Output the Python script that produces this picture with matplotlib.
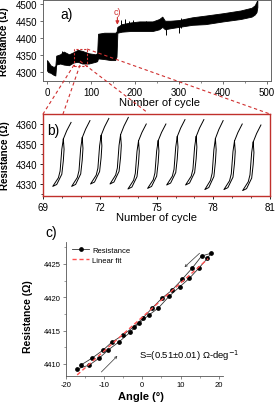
import numpy as np
import matplotlib
matplotlib.use("Agg")
import matplotlib.pyplot as plt
from matplotlib.lines import Line2D
from matplotlib.patches import Rectangle

plt.rcParams['font.family'] = ['Liberation Sans', 'DejaVu Sans']
plt.rcParams['axes.unicode_minus'] = False

# panel a: envelope of the resistance band (cycle, lower, upper)
a_cycle = [0, 3, 8, 15, 19, 21, 30, 38, 50, 60, 70, 80, 95, 110, 114, 116, 130, 145,
           155, 158, 160, 170, 190, 210, 240, 255, 262, 268, 280, 300, 330, 360, 400,
           440, 465, 472, 476, 478]
a_low = [4305, 4300, 4298, 4292, 4290, 4322, 4325, 4322, 4320, 4328, 4330, 4325, 4325,
         4330, 4332, 4340, 4338, 4335, 4335, 4345, 4415, 4418, 4420, 4420, 4420, 4425,
         4432, 4425, 4428, 4432, 4438, 4440, 4448, 4455, 4462, 4468, 4475, 4490]
a_high = [4335, 4330, 4320, 4315, 4318, 4348, 4352, 4360, 4352, 4358, 4365, 4362, 4355,
          4352, 4355, 4412, 4415, 4415, 4415, 4418, 4432, 4440, 4445, 4448, 4448, 4455,
          4462, 4450, 4450, 4452, 4460, 4465, 4472, 4480, 4488, 4495, 4505, 4512]
# isolated spikes (cycle, lower, upper)
spike_cycle = [35, 168, 178, 186, 196, 225, 270, 300, 305]
spike_low = [4340, 4430, 4430, 4430, 4430, 4430, 4408, 4415, 4430]
spike_high = [4362, 4452, 4455, 4450, 4452, 4450, 4440, 4445, 4458]

# panel b: loops per cycle
b_start = [69.50, 70.50, 71.50, 72.53, 73.48, 74.52, 75.53, 76.53, 77.55, 78.56, 79.55]
b_low = [4328.8, 4328.8, 4330.0, 4330.0, 4327.5, 4327.8, 4329.5, 4329.5, 4327.2, 4327.2, 4326.7]
b_high = [4360.8, 4361.7, 4362.8, 4363.3, 4360.0, 4360.0, 4362.2, 4362.2, 4361.7, 4360.0, 4359.5]
loop_dx = [0.56, 0.48, 0.39, 0.30, 0.0, 0.21, 0.48, 0.56, 0.60, 0.56, 0.74, 0.97]
loop_frac = [0.74, 0.58, 0.24, 0.135, 0.0, 0.03, 0.19, 0.40, 0.58, 0.74, 0.87, 1.0]

# panel c: resistance vs angle
angle = [-17.0, -13.8, -11.2, -8.9, -6.0, -3.2, -0.8, 1.75, 4.2, 7.0, 9.8, 12.3, 14.8,
         17.0, 17.9, 15.5, 13.05, 10.5, 7.8, 5.1, 2.6, 0.1, -2.2, -5.0, -8.0, -10.2,
         -13.05, -16.0]
res = [4409.25, 4409.85, 4410.9, 4412.1, 4413.35, 4414.75, 4416.15, 4417.35, 4418.4,
       4420.15, 4421.6, 4422.85, 4424.4, 4425.85, 4426.6, 4426.2, 4424.4, 4422.75,
       4421.1, 4419.85, 4418.4, 4416.85, 4415.6, 4414.35, 4413.25, 4412.1, 4410.9,
       4409.85]

W, H = 275, 406
fig = plt.figure(figsize=(W / 100, H / 100), dpi=100)


def ax_px(left, top, right, bottom):
    return fig.add_axes([left / W, 1 - bottom / H, (right - left) / W, (bottom - top) / H])


red = '#d03030'
dred = '#c0302c'

# ---- panel a
ax1 = ax_px(43, 0.5, 271, 82)
ax1.fill_between(a_cycle, a_low, a_high, color='black', lw=0.6, edgecolor='black')
ax1.vlines(spike_cycle, spike_low, spike_high, color='black', lw=0.7)
ax1.set_xlim(-9, 509)
ax1.set_ylim(4274, 4512)
ax1.set_xticks([0, 100, 200, 300, 400, 500])
ax1.set_xticks(np.arange(50, 500, 100), minor=True)
ax1.set_yticks([4300, 4350, 4400, 4450, 4500])
ax1.tick_params(labelsize=7, length=2.5, width=0.6, pad=1.5, color='#555555')
ax1.tick_params(which='minor', length=1.5, width=0.5, color='#555555')
for s in ax1.spines.values():
    s.set_color('#666666')
    s.set_linewidth(0.7)
ax1.set_ylabel('Resistance (Ω)', fontsize=7, fontweight='bold')
ax1.yaxis.set_label_coords(-0.147, 0.5)
ax1.set_xlabel('Number of cycle', fontsize=8)
ax1.xaxis.set_label_coords(0.513, -0.2)
ax1.text(0.075, 0.82, 'a)', transform=ax1.transAxes, fontsize=10, va='center')
ax1.text(160, 4478, 'c)', color=red, fontsize=6.5, ha='center', va='center')
ax1.annotate('', xy=(160, 4430), xytext=(160, 4468),
             arrowprops=dict(arrowstyle='-|>', color=red, lw=0.8, mutation_scale=5))
ax1.add_patch(Rectangle((61, 4318), 30, 50, fill=False, ec=red, lw=0.8, ls=(0, (2, 1.5))))

# ---- panel b
ax2 = ax_px(43.3, 115, 270, 197)
for x0, lo, hi in zip(b_start, b_low, b_high):
    xs = [x0 + d for d in loop_dx]
    ys = [lo + f * (hi - lo) for f in loop_frac]
    ax2.plot(xs, ys, color='black', lw=0.7)
ax2.set_xlim(69, 81)
ax2.set_ylim(4324, 4365)
ax2.set_xticks([69, 72, 75, 78, 81])
ax2.set_xticks(np.arange(69, 82, 1), minor=True)
ax2.set_yticks([4330, 4340, 4350, 4360])
ax2.set_yticks(np.arange(4325, 4365, 5), minor=True)
ax2.tick_params(labelsize=7, length=2.5, width=0.6, pad=1.5)
ax2.tick_params(which='minor', length=1.5, width=0.5)
for s in ax2.spines.values():
    s.set_color(dred)
    s.set_linewidth(1.0)
ax2.set_ylabel('Resistance (Ω)', fontsize=7, fontweight='bold')
ax2.yaxis.set_label_coords(-0.148, 0.5)
ax2.set_xlabel('Number of cycle', fontsize=8)
ax2.xaxis.set_label_coords(0.5, -0.2)
ax2.text(0.018, 0.8, 'b)', transform=ax2.transAxes, fontsize=10, va='center')

# ---- panel c
ax3 = ax_px(65.7, 243, 222.7, 377.3)
ax3.plot(angle, res, color='#333333', lw=0.6, marker='o', ms=2.4, mfc='black', mec='black',
         label='Resistance')
k, b0 = np.polyfit(angle, res, 1)
fx = np.array([-17.0, 17.2])
ax3.plot(fx, k * fx + b0, color='#ff5050', lw=1.0, ls=(0, (3, 2)), label='Linear fit')
ax3.annotate('', xy=(10.5, 4424.25), xytext=(15.5, 4426.9),
             arrowprops=dict(arrowstyle='->', color='#333333', lw=0.5, mutation_scale=4))
ax3.annotate('', xy=(-6.0, 4411.5), xytext=(-11.2, 4408.5),
             arrowprops=dict(arrowstyle='->', color='#333333', lw=0.5, mutation_scale=4))
ax3.set_xlim(-20, 21)
ax3.set_ylim(4408.15, 4428.3)
ax3.set_xticks([-20, -10, 0, 10, 20])
ax3.set_xticks([-15, -5, 5, 15], minor=True)
ax3.set_yticks([4410, 4415, 4420, 4425])
ax3.set_yticks([4412.5, 4417.5, 4422.5, 4427.5], minor=True)
ax3.tick_params(labelsize=5.5, length=2, width=0.5, pad=1.5, color='#555555')
ax3.tick_params(which='minor', length=1.2, width=0.4, color='#555555')
ax3.spines['top'].set_visible(False)
ax3.spines['right'].set_visible(False)
for s in ('left', 'bottom'):
    ax3.spines[s].set_color('#555555')
    ax3.spines[s].set_linewidth(0.6)
ax3.legend(loc='upper left', bbox_to_anchor=(0.01, 1.0), frameon=False, fontsize=5.5,
           handlelength=2.3, handletextpad=0.4, labelspacing=0.35, borderaxespad=0.2)
ax3.text(0.47, 0.16, 'S=(0.51±0.01) Ω-deg$^{-1}$', transform=ax3.transAxes, fontsize=6.8,
         va='center')
ax3.set_ylabel('Resistance (Ω)', fontsize=7.5, fontweight='bold')
ax3.yaxis.set_label_coords(-0.208, 0.45)
ax3.set_xlabel('Angle (°)', fontsize=8, fontweight='bold')
ax3.xaxis.set_label_coords(0.48, -0.11)
fig.text(51 / W, 1 - 233 / H, 'c)', fontsize=10, ha='center', va='center')

# dashed zoom lines between a and b
for (x1, y1), (x2, y2) in [((74, 66), (43, 115)), ((80, 66), (63, 115)),
                           ((80, 62), (148, 114)), ((87, 50), (270, 115))]:
    fig.add_artist(Line2D([x1 / W, x2 / W], [1 - y1 / H, 1 - y2 / H], transform=fig.transFigure,
                          color=red, lw=0.8, ls=(0, (3, 2.5))))

fig.savefig('out.png', dpi=100)
